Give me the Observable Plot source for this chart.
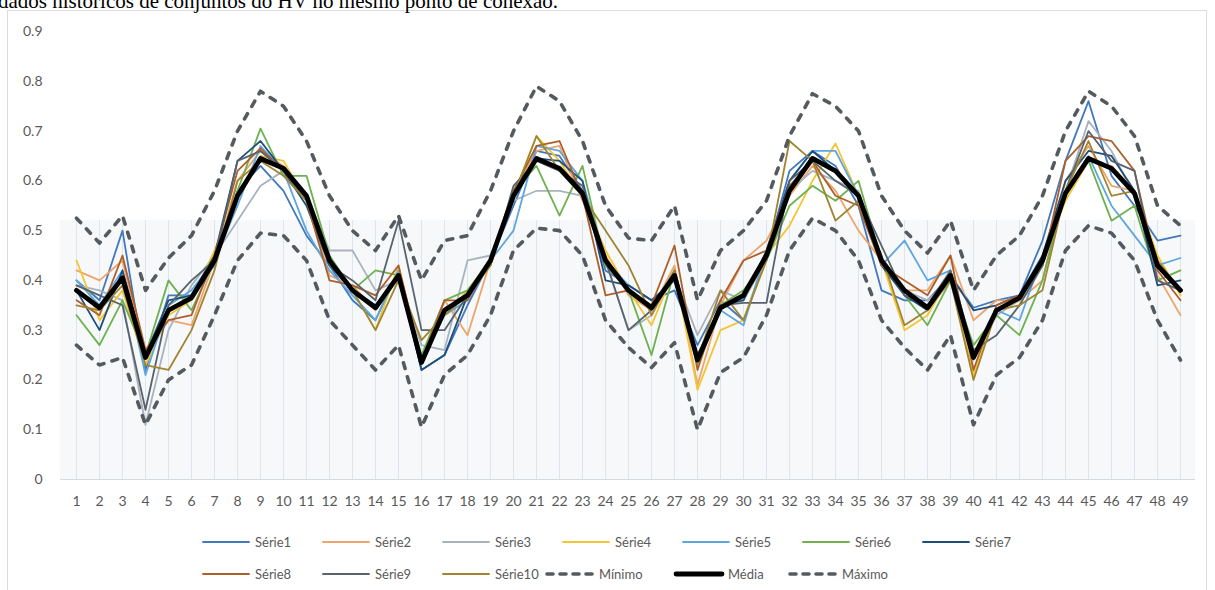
<!DOCTYPE html>
<html><head><meta charset="utf-8">
<script src="https://cdn.jsdelivr.net/npm/d3@7"></script>
<script src="https://cdn.jsdelivr.net/npm/@observablehq/plot@0.6"></script>
<style>
body{margin:0;width:1215px;height:590px;overflow:hidden;background:#fff;position:relative;font-family:Lato,"Open Sans",sans-serif}
#doc{position:absolute;left:-2px;top:-9px;font:21px/21px "Liberation Serif","DejaVu Serif",serif;color:#000;white-space:nowrap}
#chart{position:absolute;left:0;top:0}
#frame{position:absolute;left:7px;top:10px;width:1198px;height:600px;border:1px solid #dcdcdc;pointer-events:none}
.leg{position:absolute;display:flex;align-items:center;font-size:13px;color:#595959;height:16px}
.leg svg{margin-right:3px}
</style></head>
<body>
<div id="chart"></div>
<div id="legend"></div>
<div id="frame"></div>
<div id="doc">dados históricos de conjuntos do HV no mesmo ponto de conexão.</div>
<script>
const categories = [1,2,3,4,5,6,7,8,9,10,11,12,13,14,15,16,17,18,19,20,21,22,23,24,25,26,27,28,29,30,31,32,33,34,35,36,37,38,39,40,41,42,43,44,45,46,47,48,49];
const yTicks = [0,0.1,0.2,0.3,0.4,0.5,0.6,0.7,0.8,0.9];

const serie1 = [0.40,0.36,0.50,0.22,0.37,0.37,0.43,0.58,0.63,0.58,0.49,0.43,0.36,0.32,0.42,0.22,0.25,0.35,0.44,0.55,0.66,0.65,0.58,0.42,0.39,0.36,0.38,0.27,0.36,0.32,0.45,0.62,0.66,0.63,0.55,0.38,0.36,0.36,0.41,0.345,0.36,0.37,0.48,0.64,0.76,0.61,0.55,0.48,0.49];
const serie2 = [0.42,0.40,0.44,0.25,0.32,0.31,0.44,0.60,0.66,0.63,0.56,0.41,0.39,0.34,0.41,0.24,0.36,0.29,0.44,0.58,0.66,0.67,0.56,0.45,0.37,0.34,0.43,0.19,0.35,0.44,0.48,0.57,0.63,0.58,0.50,0.44,0.38,0.38,0.45,0.32,0.36,0.36,0.40,0.60,0.67,0.59,0.58,0.41,0.33];
const serie3 = [0.39,0.38,0.36,0.11,0.30,0.39,0.45,0.52,0.59,0.62,0.57,0.46,0.46,0.38,0.40,0.27,0.26,0.44,0.45,0.56,0.58,0.58,0.57,0.44,0.30,0.33,0.41,0.29,0.38,0.36,0.44,0.58,0.62,0.60,0.58,0.44,0.38,0.36,0.40,0.24,0.33,0.36,0.44,0.58,0.72,0.66,0.57,0.43,0.38];
const serie4 = [0.44,0.32,0.38,0.23,0.33,0.36,0.46,0.57,0.65,0.64,0.56,0.43,0.38,0.30,0.43,0.24,0.33,0.38,0.44,0.57,0.69,0.64,0.57,0.46,0.38,0.31,0.42,0.18,0.30,0.32,0.45,0.51,0.60,0.675,0.57,0.44,0.30,0.33,0.41,0.21,0.34,0.36,0.44,0.56,0.64,0.63,0.58,0.45,0.37];
const serie5 = [0.40,0.35,0.42,0.21,0.35,0.38,0.44,0.55,0.67,0.62,0.50,0.42,0.37,0.32,0.42,0.24,0.33,0.36,0.44,0.50,0.67,0.66,0.60,0.44,0.39,0.36,0.40,0.25,0.34,0.31,0.46,0.60,0.66,0.66,0.57,0.43,0.48,0.40,0.42,0.25,0.34,0.32,0.45,0.58,0.65,0.55,0.49,0.43,0.445];
const serie6 = [0.33,0.27,0.36,0.25,0.40,0.34,0.44,0.58,0.705,0.61,0.61,0.45,0.38,0.42,0.41,0.25,0.36,0.38,0.44,0.58,0.63,0.53,0.63,0.43,0.38,0.25,0.42,0.23,0.35,0.38,0.44,0.55,0.59,0.56,0.60,0.44,0.37,0.31,0.40,0.27,0.33,0.29,0.40,0.58,0.64,0.52,0.55,0.40,0.42];
const serie7 = [0.38,0.30,0.42,0.25,0.36,0.37,0.45,0.64,0.68,0.62,0.55,0.43,0.38,0.35,0.41,0.22,0.25,0.37,0.44,0.57,0.645,0.64,0.60,0.40,0.39,0.36,0.40,0.24,0.35,0.36,0.46,0.60,0.66,0.62,0.57,0.43,0.37,0.34,0.41,0.34,0.35,0.37,0.45,0.60,0.66,0.65,0.58,0.39,0.40];
const serie8 = [0.36,0.33,0.45,0.26,0.32,0.33,0.45,0.62,0.665,0.62,0.56,0.40,0.39,0.37,0.43,0.24,0.36,0.36,0.44,0.58,0.67,0.68,0.57,0.37,0.38,0.35,0.47,0.22,0.36,0.44,0.46,0.59,0.64,0.57,0.55,0.43,0.40,0.37,0.45,0.22,0.35,0.37,0.43,0.64,0.69,0.68,0.62,0.42,0.36];
const serie9 = [0.39,0.37,0.35,0.14,0.35,0.40,0.44,0.64,0.66,0.62,0.56,0.43,0.40,0.36,0.52,0.30,0.30,0.37,0.43,0.59,0.64,0.62,0.59,0.44,0.30,0.34,0.42,0.25,0.35,0.355,0.355,0.60,0.64,0.60,0.57,0.47,0.37,0.35,0.42,0.26,0.29,0.35,0.43,0.58,0.70,0.64,0.62,0.40,0.38];
const serie10 = [0.35,0.34,0.39,0.23,0.22,0.30,0.42,0.60,0.64,0.61,0.56,0.44,0.38,0.30,0.40,0.28,0.33,0.37,0.43,0.57,0.69,0.62,0.57,0.50,0.43,0.33,0.42,0.24,0.38,0.32,0.44,0.68,0.64,0.52,0.56,0.45,0.31,0.34,0.40,0.20,0.34,0.35,0.38,0.58,0.68,0.57,0.58,0.44,0.38];
const minimo = [0.27,0.23,0.245,0.11,0.20,0.23,0.33,0.44,0.495,0.49,0.44,0.32,0.27,0.22,0.27,0.105,0.21,0.25,0.33,0.46,0.505,0.50,0.45,0.32,0.265,0.225,0.275,0.10,0.215,0.245,0.33,0.46,0.525,0.50,0.44,0.32,0.265,0.22,0.29,0.11,0.21,0.245,0.32,0.46,0.51,0.495,0.44,0.32,0.24];
const media = [0.38,0.345,0.405,0.245,0.34,0.365,0.44,0.57,0.645,0.625,0.57,0.44,0.38,0.345,0.41,0.235,0.34,0.37,0.44,0.57,0.645,0.625,0.575,0.44,0.38,0.345,0.41,0.24,0.345,0.37,0.45,0.58,0.645,0.62,0.57,0.44,0.38,0.345,0.41,0.245,0.34,0.365,0.44,0.575,0.645,0.625,0.575,0.43,0.38];
const maximo = [0.525,0.475,0.53,0.38,0.445,0.49,0.58,0.70,0.78,0.75,0.68,0.57,0.50,0.46,0.53,0.40,0.48,0.49,0.58,0.70,0.79,0.76,0.68,0.55,0.485,0.48,0.55,0.36,0.46,0.50,0.56,0.69,0.775,0.75,0.70,0.57,0.50,0.455,0.52,0.38,0.45,0.49,0.57,0.70,0.78,0.75,0.69,0.55,0.51];

const seriesNames = ["Série1","Série2","Série3","Série4","Série5","Série6","Série7","Série8","Série9","Série10"];
const seriesValues = [serie1,serie2,serie3,serie4,serie5,serie6,serie7,serie8,serie9,serie10];
const seriesColors = ["#4178be","#eda56b","#a9b3bd","#f3c532","#5ea7de","#6db150","#1f4e79","#ad5f2b","#59636d","#a08432"];
const shadeTop = 0.52;
const dashColor = "#555a5f";

function lineFor(vals, opts) {
  return Plot.line(categories, {x: d => d, y: (d, j) => vals[j], strokeLinejoin: "round", strokeLinecap: "round", ...opts});
}

const chart = Plot.plot({
  width: 1215, height: 525,
  marginLeft: 60, marginRight: 20, marginTop: 31, marginBottom: 46,
  style: {background: "transparent", fontFamily: "Lato, 'Open Sans', sans-serif"},
  x: {type: "point", domain: categories, padding: 0.5},
  y: {domain: [0, 0.9]},
  marks: [
    Plot.rect([shadeTop], {y1: () => 0, y2: d => d, fill: "#f7f8fa"}),
    Plot.ruleX(categories, {x: d => d, y1: () => 0, y2: () => shadeTop, stroke: "#dde5ee", strokeWidth: 1}),
    Plot.ruleY([0], {stroke: "#d5d9de", strokeWidth: 1}),
    ...seriesValues.map((vals, i) => lineFor(vals, {stroke: seriesColors[i], strokeWidth: 1.8})),
    lineFor(minimo, {stroke: dashColor, strokeWidth: 3.6, strokeDasharray: "6,8.5"}),
    lineFor(media, {stroke: "#000", strokeWidth: 4.8}),
    lineFor(maximo, {stroke: dashColor, strokeWidth: 3.6, strokeDasharray: "6,8.5"}),
    Plot.axisX({tickSize: 0, tickPadding: 17, fontSize: 14, color: "#595959", label: null}),
    Plot.axisY(yTicks, {tickSize: 0, tickPadding: 18, fontSize: 14, color: "#595959", label: null,
      tickFormat: d => d === 0 ? "0" : d.toFixed(1)})
  ]
});
document.getElementById("chart").append(chart);

// legend
const legendItems = [
  ...seriesNames.map((n, i) => ({name: n, color: seriesColors[i], w: 1.8, dash: null})),
  {name: "Mínimo", color: dashColor, w: 3.6, dash: "6,7"},
  {name: "Média", color: "#000", w: 4.8, dash: null},
  {name: "Máximo", color: dashColor, w: 3.6, dash: "6,7"}
];
const legendPos = [
  [200,542],[320,542],[440,542],[560,542],[680,542],[800,542],[920,542],
  [200,574],[320,574],[440,574],[544,574],[673,574],[787,574]
];
const legend = document.getElementById("legend");
legendItems.forEach((it, i) => {
  const div = document.createElement("div");
  div.className = "leg";
  div.style.left = legendPos[i][0] + "px";
  div.style.top = (legendPos[i][1] - 8) + "px";
  const svg = d3.create("svg").attr("width", 52).attr("height", 16);
  svg.append("line").attr("x1", 3).attr("x2", 49).attr("y1", 8).attr("y2", 8)
    .attr("stroke", it.color).attr("stroke-width", it.w)
    .attr("stroke-linecap", "round")
    .attr("stroke-dasharray", it.dash);
  div.append(svg.node());
  const span = document.createElement("span");
  span.textContent = it.name;
  div.append(span);
  legend.append(div);
});
</script>
</body></html>
